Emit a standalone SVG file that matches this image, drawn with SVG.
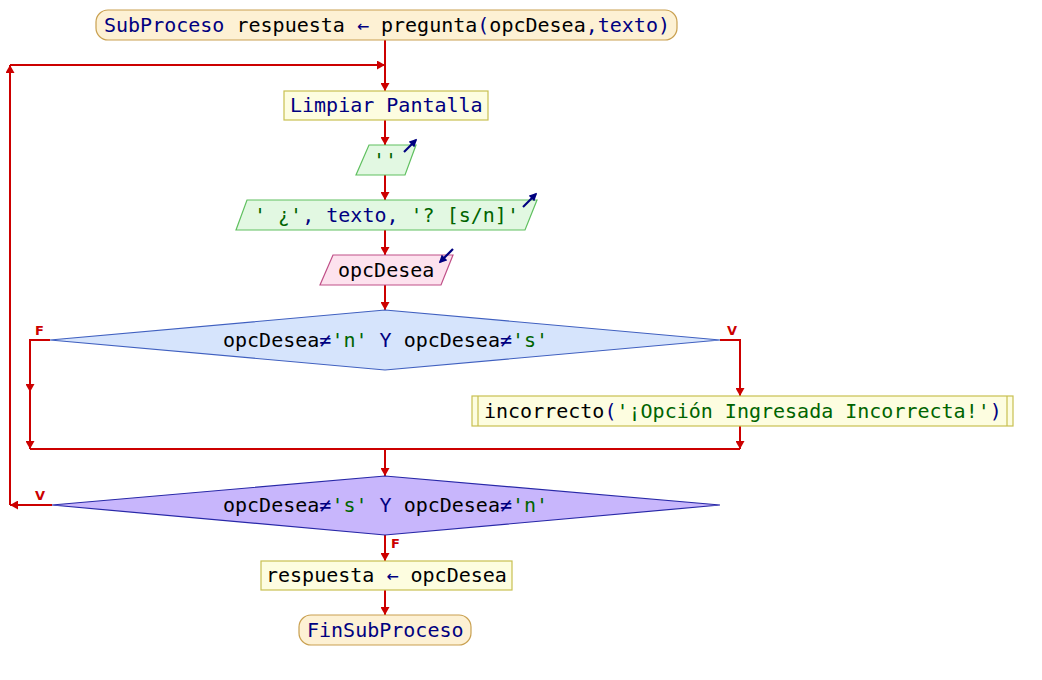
<svg xmlns="http://www.w3.org/2000/svg" width="1042" height="680" viewBox="0 0 1042 680">
<style>
text{font-family:"DejaVu Sans Mono","Liberation Mono",monospace;font-size:20px;fill:#000}
.kw{fill:#000080}
.str{fill:#006400}
.term{fill:#fdf1d4;stroke:#c9a050;stroke-width:1.2}
.proc{fill:#fdfde0;stroke:#c8c050;stroke-width:1.2}
.out{fill:#e2f8e2;stroke:#60c060;stroke-width:1.2}
.inp{fill:#fde2ee;stroke:#c05088;stroke-width:1.2}
.dec1{fill:#d6e4fc;stroke:#4060c0;stroke-width:1.2}
.dec2{fill:#c8b6fc;stroke:#2828a8;stroke-width:1.2}
.icon{stroke:#000080;stroke-width:2.2;fill:none}
.c{fill:none;stroke:#cc0000;stroke-width:2}
.ca{fill:none;stroke:#cc0000;stroke-width:2;marker-end:url(#ah)}
.lbl{font-family:"DejaVu Sans","Liberation Sans",sans-serif;font-size:13px;font-weight:bold;fill:#cc0000}
</style>
<defs>
<marker id="ah" viewBox="0 0 10 10" refX="10" refY="5" markerWidth="8" markerHeight="9" markerUnits="userSpaceOnUse" orient="auto" preserveAspectRatio="none">
<path d="M0,0 L10,5 L0,10 z" fill="#cc0000"/>
</marker>
<marker id="ih" viewBox="0 0 10 10" refX="8" refY="5" markerWidth="8" markerHeight="8" markerUnits="userSpaceOnUse" orient="auto">
<path d="M0,0 L10,5 L0,10 z" fill="#000080"/>
</marker>
</defs>

<g id="connectors">
<path class="ca" d="M385,40 V91"/>
<path class="ca" d="M52,505 H10"/>
<path class="ca" d="M10,505 V65"/>
<path class="ca" d="M10,65 H385"/>
<path class="ca" d="M385,120 V145"/>
<path class="ca" d="M385,175 V200"/>
<path class="ca" d="M385,230 V255"/>
<path class="ca" d="M385,285 V310"/>
<path class="ca" d="M50,340 H30 V392"/>
<path class="ca" d="M30,392 V449"/>
<path class="ca" d="M720,340 H740 V396"/>
<path class="ca" d="M740,426 V449"/>
<path class="c" d="M30,449 H740"/>
<path class="ca" d="M385,449 V476"/>
<path class="ca" d="M385,535 V561"/>
<path class="ca" d="M385,590 V615"/>
<text class="lbl" x="35" y="335">F</text>
<text class="lbl" x="727" y="335">V</text>
<text class="lbl" x="35" y="500">V</text>
<text class="lbl" x="391" y="548">F</text>
</g>

<g id="n_start">
<rect class="term" x="96" y="10" width="581" height="30" rx="12" ry="12"/>
<text x="104" y="32"><tspan class="kw">SubProceso</tspan> respuesta <tspan class="kw">←</tspan> pregunta<tspan class="kw">(</tspan>opcDesea<tspan class="kw">,texto)</tspan></text>
</g>

<g id="n_limpiar">
<rect class="proc" x="284" y="91" width="204" height="29"/>
<text x="290" y="112" class="kw">Limpiar Pantalla</text>
</g>

<g id="n_out1">
<polygon class="out" points="369,145 416,145 405,175 356,175"/>
<text x="373" y="167" class="str">''</text>
<path class="icon" d="M404,152 L416,140" marker-end="url(#ih)"/>
</g>

<g id="n_out2">
<polygon class="out" points="247,200 537,200 525,230 236,230"/>
<text x="254" y="222"><tspan class="str">' ¿'</tspan><tspan class="kw">, texto, </tspan><tspan class="str">'? [s/n]'</tspan></text>
<path class="icon" d="M523,207 L536,194" marker-end="url(#ih)"/>
</g>

<g id="n_in">
<polygon class="inp" points="333,255 453,255 441,285 320,285"/>
<text x="338" y="277">opcDesea</text>
<path class="icon" d="M453,249 L440,262" marker-end="url(#ih)"/>
</g>

<g id="n_dec1">
<polygon class="dec1" points="385,310 720,340 385,370 50,340"/>
<text x="223" y="347">opcDesea<tspan class="kw">≠</tspan><tspan class="str">'n'</tspan><tspan class="kw"> Y </tspan>opcDesea<tspan class="kw">≠</tspan><tspan class="str">'s'</tspan></text>
</g>

<g id="n_incorrecto">
<rect class="proc" x="472" y="396" width="541" height="30"/>
<line x1="478" y1="396" x2="478" y2="426" stroke="#c8c050" stroke-width="1.2"/>
<line x1="1007" y1="396" x2="1007" y2="426" stroke="#c8c050" stroke-width="1.2"/>
<text x="484" y="418">incorrecto<tspan class="kw">(</tspan><tspan class="str">'¡Opción Ingresada Incorrecta!'</tspan><tspan class="kw">)</tspan></text>
</g>

<g id="n_dec2">
<polygon class="dec2" points="385,476 720,505 385,535 52,505"/>
<text x="223" y="512">opcDesea<tspan class="kw">≠</tspan><tspan class="str">'s'</tspan><tspan class="kw"> Y </tspan>opcDesea<tspan class="kw">≠</tspan><tspan class="str">'n'</tspan></text>
</g>

<g id="n_asig">
<rect class="proc" x="261" y="561" width="251" height="29"/>
<text x="266" y="582">respuesta <tspan class="kw">←</tspan> opcDesea</text>
</g>

<g id="n_end">
<rect class="term" x="299" y="615" width="172" height="30" rx="12" ry="12"/>
<text x="307" y="637" class="kw">FinSubProceso</text>
</g>
</svg>
